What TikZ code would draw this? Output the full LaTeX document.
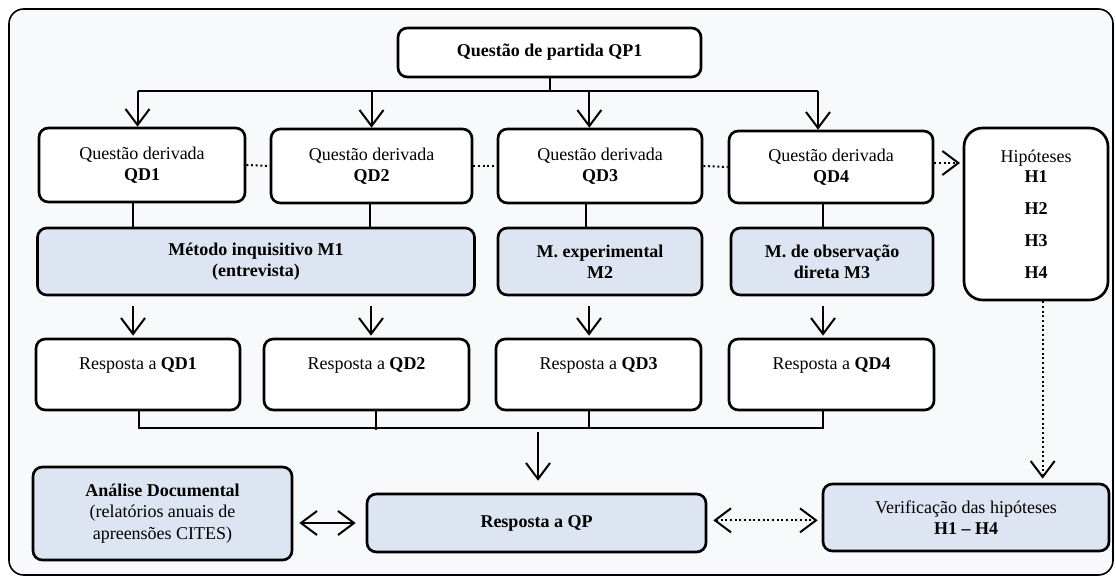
\documentclass[tikz,border=0pt]{standalone}
\usepackage{fontspec}
\setmainfont{Liberation Serif}
\usetikzlibrary{arrows.meta,positioning}
\definecolor{framebg}{RGB}{248,249,251}
\definecolor{methodbg}{RGB}{220,229,241}
\tikzset{
	box/.style={draw, line width=2pt, rounded corners=7pt, fill=white, align=center, inner sep=2pt},
	method/.style={box, fill=methodbg},
	sz/.style 2 args={minimum width=#1*0.75pt, minimum height=#2*0.75pt},
	link/.style={line width=1.5pt},
	dots/.style={link, dotted},
}

\begin{document}
\begin{tikzpicture}[
		x=0.75pt, y=-0.75pt,
		font=\fontsize{13.5}{16}\selectfont,
		>={Straight Barb[length=12pt, width=18pt, line width=1.5pt]},
	]
	\useasboundingbox (0,0) rectangle (1116,577);
	\draw[line width=1.2pt, fill=framebg, rounded corners=11pt] (9,9) rectangle (1113,575);

	% question boxes
	\node[box, font=\fontsize{13.5}{16}\selectfont\bfseries, sz={303}{49}] (qp) at (549.5,52.5) {Questão de partida QP1};
	\node[box, sz={206}{74}] (qd1) at (142,165) {Questão derivada\\\textbf{QD1}};
	\node[box, sz={201}{74}] (qd2) at (371.5,166) {Questão derivada\\\textbf{QD2}};
	\node[box, sz={204}{74}] (qd3) at (600,166) {Questão derivada\\\textbf{QD3}};
	\node[box, sz={204}{72}] (qd4) at (831,167) {Questão derivada\\\textbf{QD4}};
	\node[box, rounded corners=14pt, sz={144}{172}] (hip) at (1036,214)
		{Hipóteses\\[-1pt]\textbf{H1}\\[8pt]\textbf{H2}\\[8pt]\textbf{H3}\\[8pt]\textbf{H4}};

	% methods
	\node[method, font=\fontsize{13.5}{16}\selectfont\bfseries, sz={437}{67}] (m1) at (256,261.5) {Método inquisitivo M1\\(entrevista)};
	\node[method, font=\fontsize{13.5}{16}\selectfont\bfseries, sz={204}{67}] (m2) at (600,261.5) {M. experimental\\M2};
	\node[method, font=\fontsize{13.5}{16}\selectfont\bfseries, sz={202}{67}] (m3) at (832,261.5) {M. de observação\\direta M3};

	% answers
	\node[box, sz={204}{71}] (r1) at (138,374.5) {Resposta a \textbf{QD1}\\\mbox{}};
	\node[box, sz={205}{71}] (r2) at (366.5,374.5) {Resposta a \textbf{QD2}\\\mbox{}};
	\node[box, sz={205}{71}] (r3) at (598.5,374.5) {Resposta a \textbf{QD3}\\\mbox{}};
	\node[box, sz={205}{71}] (r4) at (831.5,374.5) {Resposta a \textbf{QD4}\\\mbox{}};

	\node[method, font=\fontsize{13.5}{16}\selectfont\bfseries, sz={339}{58}] (qpr) at (536.5,523) {Resposta a QP};
	\node[method, sz={259}{93}] (ana) at (162.5,513.5) {\textbf{Análise Documental}\\(relatórios anuais de\\apreensões CITES)};
	\node[method, sz={286}{67}] (ver) at (966,517.5) {Verificação das hipóteses\\\textbf{H1 – H4}};

	% top bus
	\coordinate (busl) at (137.5,91);
	\coordinate (busr) at (818,91);
	\draw[link] (qp.south) -- (qp.south |- busl);
	\draw[link] (busl) -- (busr);
	\draw[link,->] (busl) -- (busl |- qd1.north);
	\draw[link,->] (qd2.north |- busl) -- (qd2.north);
	\draw[link,->] ([xshift=-8pt]qd3.north |- busl) -- ([xshift=-8pt]qd3.north);
	\draw[link,->] (busr) -- (busr |- qd4.north);

	% dotted links
	\draw[dots] (qd1.east) -- (qd2.west);
	\draw[dots] (qd2.east) -- (qd3.west);
	\draw[dots] (qd3.east) -- (qd4.west);
	\draw[dots,->] ([yshift=3pt]qd4.east) -- ([xshift=-2pt,yshift=3pt]hip.west |- qd4.east);

	% questions -> methods -> answers
	\foreach \i/\m/\cx in {1/m1/133, 2/m1/370, 3/m2/586, 4/m3/823}{
		\draw[link] (\cx,0 |- qd\i.south) -- (\cx,0 |- \m.north);
	}
	\foreach \i/\m/\cx in {1/m1/133, 2/m1/371, 3/m2/589, 4/m3/823}{
		\draw[link,->] ([yshift=-7.5pt]\cx,0 |- \m.south) -- ([yshift=1.5pt]\cx,0 |- r\i.north);
	}

	% collecting line
	\coordinate (join) at (538,428);
	\draw[link] (139,0 |- r1.south) -- (139,0 |- join) -- (823,0 |- join) -- (823,0 |- r4.south);
	\draw[link] (376,0 |- r2.south) -- ([yshift=-1.5pt]376,0 |- join);
	\draw[link] (589,0 |- r3.south) -- (589,0 |- join);
	\draw[link,->] ([yshift=-3pt]join) -- ([yshift=9pt]join |- qpr.north);

	% bottom row
	\draw[link,<->] ([xshift=4.5pt]ana.east |- qpr) -- ([xshift=-7.5pt]qpr.west);
	\draw[dots,<->] ([xshift=4.5pt,yshift=2pt]qpr.east) -- ([xshift=-3pt,yshift=2pt]ver.west |- qpr.east);
	\draw[dots,->] ([xshift=5pt]hip.south) -- ([xshift=5pt,yshift=3pt]hip.south |- ver.north);
\end{tikzpicture}
\end{document}
